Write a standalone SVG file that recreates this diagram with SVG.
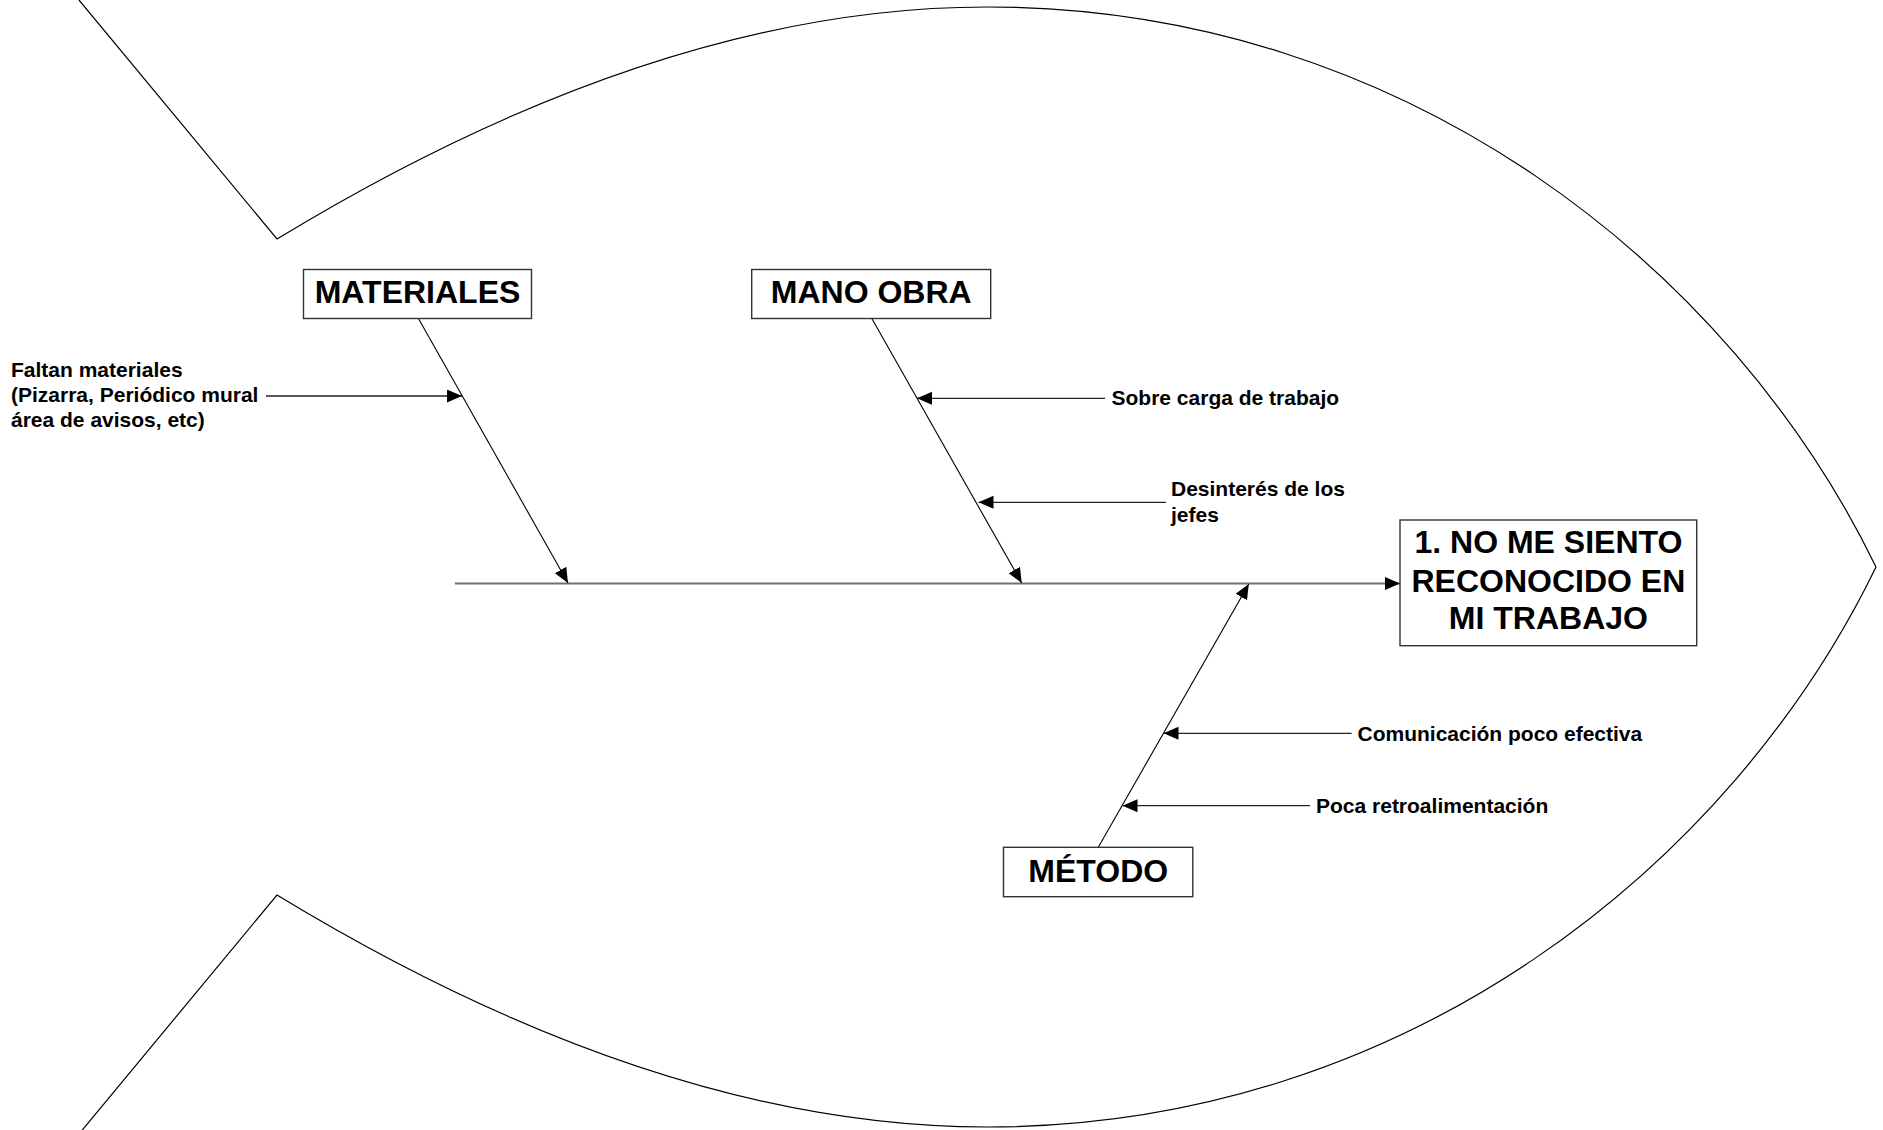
<svg xmlns="http://www.w3.org/2000/svg" width="1883" height="1130" viewBox="0 0 1883 1130">
  <style>
    .outline { fill: none; stroke: #000; stroke-width: 1.2; }
    .box { fill: #fff; stroke: #333; stroke-width: 1.4; }
    .title { font-family: "Liberation Sans", Arial, sans-serif; font-weight: bold; font-size: 32px; fill: #000; text-anchor: middle; }
    .cause { font-family: "Liberation Sans", Arial, sans-serif; font-weight: bold; font-size: 21px; fill: #000; }
    .bone { stroke: #000; stroke-width: 1.1; fill: none; }
    .spine { stroke: #707070; stroke-width: 2; fill: none; }
    .sub { stroke: #222; stroke-width: 1.3; fill: none; }
  </style>
  <defs>
    <marker id="head" markerUnits="userSpaceOnUse" markerWidth="16" markerHeight="14" refX="15" refY="6.5" orient="auto">
      <path d="M0,0 L15,6.5 L0,13 Z" fill="#000"/>
    </marker>
  </defs>

  <rect width="1883" height="1130" fill="#fff"/>

  <!-- fish body with tail -->
  <path id="fish" class="outline" d="M79,0 L277,239 C532,84 769,7 987,7 C1407,7 1732,270 1876,567 C1732,864 1407,1127 987,1127 C769,1127 532,1050 277,895 L79,1134"/>

  <!-- connectors -->
  <g id="connectors">
    <line class="spine" x1="455" y1="583.5" x2="1400" y2="583.5" marker-end="url(#head)"/>
    <line class="bone" x1="418.3" y1="318.3" x2="568" y2="583" marker-end="url(#head)"/>
    <line class="bone" x1="871.7" y1="318.3" x2="1021.7" y2="583" marker-end="url(#head)"/>
    <line class="bone" x1="1098.3" y1="847.3" x2="1248.8" y2="584" marker-end="url(#head)"/>
    <line class="sub" x1="266" y1="396" x2="462" y2="396" marker-end="url(#head)"/>
    <line class="sub" x1="1105" y1="398.3" x2="917" y2="398.3" marker-end="url(#head)"/>
    <line class="sub" x1="1166" y1="502.3" x2="978.5" y2="502.3" marker-end="url(#head)"/>
    <line class="sub" x1="1351.6" y1="733.3" x2="1163.5" y2="733.3" marker-end="url(#head)"/>
    <line class="sub" x1="1310" y1="805.7" x2="1122.5" y2="805.7" marker-end="url(#head)"/>
  </g>

  <!-- category boxes -->
  <g id="materiales">
    <rect class="box" x="303.5" y="269.5" width="228" height="49"/>
    <text class="title" x="417.5" y="303.3">MATERIALES</text>
  </g>
  <g id="mano-obra">
    <rect class="box" x="751.7" y="269.5" width="239" height="49"/>
    <text class="title" x="871.2" y="303.3">MANO OBRA</text>
  </g>
  <g id="metodo">
    <rect class="box" x="1003.5" y="847.3" width="189.3" height="49.4"/>
    <text class="title" x="1098.2" y="881.7">MÉTODO</text>
  </g>

  <!-- effect box -->
  <g id="efecto">
    <rect class="box" x="1400" y="520" width="296.7" height="125.7"/>
    <text class="title" x="1548.4" y="553.3">1. NO ME SIENTO</text>
    <text class="title" x="1548.4" y="591.5">RECONOCIDO EN</text>
    <text class="title" x="1548.4" y="629.3">MI TRABAJO</text>
  </g>

  <!-- causes -->
  <g id="causa-faltan">
    <text class="cause" x="11" y="377.3">Faltan materiales</text>
    <text class="cause" x="11" y="401.8">(Pizarra, Periódico mural</text>
    <text class="cause" x="11" y="426.7">área de avisos, etc)</text>
  </g>
  <g id="causa-sobrecarga">
    <text class="cause" x="1111.5" y="404.5">Sobre carga de trabajo</text>
  </g>
  <g id="causa-desinteres">
    <text class="cause" x="1171" y="496">Desinterés de los</text>
    <text class="cause" x="1171" y="521.5">jefes</text>
  </g>
  <g id="causa-comunicacion">
    <text class="cause" x="1357.5" y="740.5">Comunicación poco efectiva</text>
  </g>
  <g id="causa-poca">
    <text class="cause" x="1316" y="812.8">Poca retroalimentación</text>
  </g>
</svg>
